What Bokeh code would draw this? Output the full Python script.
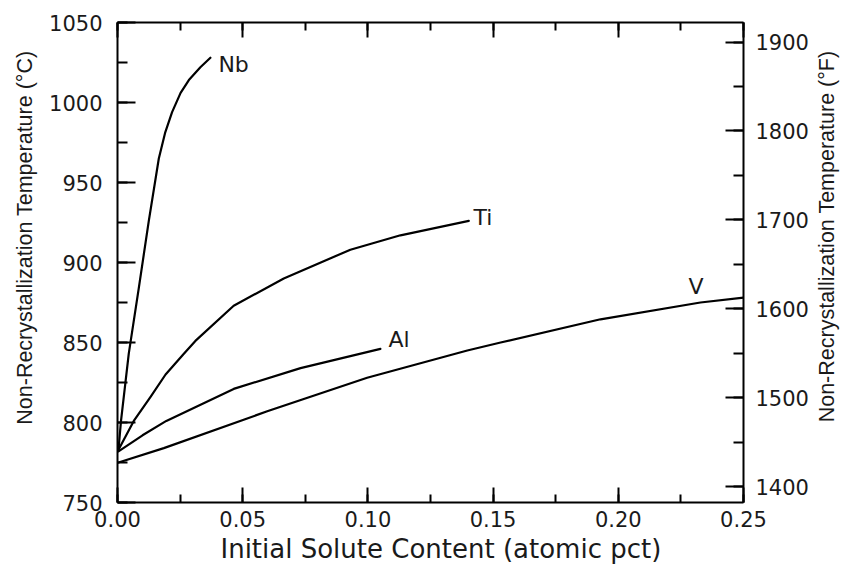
import math
from bokeh.plotting import figure
from bokeh.layouts import row
from bokeh.models import (Range1d, LinearAxis, SingleIntervalTicker, PrintfTickFormatter,
                          CustomJSTickFormatter, Title, ColumnDataSource)
from bokeh.core.properties import value
from bokeh.embed import file_html
from bokeh.resources import INLINE

# ---- data ----
nb_x = [0.0004, 0.0014, 0.0045, 0.0085, 0.0125, 0.0165, 0.0190, 0.0218, 0.0252, 0.0285, 0.0331, 0.0371]
nb_t = [783, 801, 843, 884, 926, 965, 981, 994, 1006, 1014, 1022, 1028]

ti_x = [0.0004, 0.0065, 0.0132, 0.0192, 0.0265, 0.0311, 0.0464, 0.0664, 0.0930, 0.1130, 0.1403]
ti_t = [783, 801, 816, 830, 843, 851, 873, 890, 908, 917, 926]

al_x = [0.0004, 0.0100, 0.0195, 0.0464, 0.0731, 0.1050]
al_t = [782, 792, 801, 821, 834, 846]

v_x = [0.0004, 0.0185, 0.0598, 0.0997, 0.1397, 0.1530, 0.1929, 0.2328, 0.2500]
v_t = [775, 784, 807, 828, 845, 850, 864.5, 875, 878]

label_text = ["Nb", "Ti", "Al", "V"]
label_x = [0.0403, 0.1422, 0.1082, 0.2280]
label_t = [1024, 928, 852, 885]

x_title = "Initial Solute Content (atomic pct)"
yl_title = "Non-Recrystallization Temperature (°C)"
yr_title = "Non-Recrystallization Temperature (°F)"

c_min, c_max = 750, 1050
f_min, f_max = c_min * 9 / 5 + 32, c_max * 9 / 5 + 32

TICK_FONT = "DejaVu Sans"
INK = "#1a1a1a"

p = figure(width=812, height=569, x_range=Range1d(0, 0.25), y_range=Range1d(c_min, c_max),
           output_backend="svg", toolbar_location=None,
           x_axis_location=None, y_axis_location=None,
           min_border_left=117, min_border_right=69, min_border_top=22, min_border_bottom=67)
p.extra_y_ranges = {"F": Range1d(f_min, f_max)}
p.grid.visible = False
p.outline_line_color = None
p.background_fill_color = "white"
p.border_fill_color = "white"


def style(ax, maj, mnr):
    ax.axis_line_width = 2
    ax.axis_line_color = "black"
    ax.major_tick_in = maj
    ax.major_tick_out = 0
    ax.minor_tick_in = mnr
    ax.minor_tick_out = 0
    ax.major_tick_line_width = 2
    ax.minor_tick_line_width = 2
    ax.major_tick_line_color = "black"
    ax.minor_tick_line_color = "black"
    ax.major_label_text_font = TICK_FONT
    ax.major_label_text_font_size = "21px"
    ax.major_label_text_color = INK


bottom = LinearAxis(ticker=SingleIntervalTicker(interval=0.05, num_minor_ticks=2),
                    formatter=PrintfTickFormatter(format="%.2f"))
style(bottom, 15, 8)
bottom.major_label_standoff = 8
p.add_layout(bottom, "below")

top = LinearAxis(ticker=SingleIntervalTicker(interval=0.05, num_minor_ticks=2),
                 formatter=CustomJSTickFormatter(code="return ''"))
style(top, 15, 8)
top.major_label_text_font_size = "1px"
top.major_label_standoff = 0
p.add_layout(top, "above")

left = LinearAxis(ticker=SingleIntervalTicker(interval=50, num_minor_ticks=2))
style(left, 18, 10)
left.major_label_standoff = 15
p.add_layout(left, "left")

right = LinearAxis(y_range_name="F", ticker=SingleIntervalTicker(interval=100, num_minor_ticks=2))
style(right, 18, 10)
right.major_label_standoff = 12
p.add_layout(right, "right")

for xs, ts in [(nb_x, nb_t), (ti_x, ti_t), (al_x, al_t), (v_x, v_t)]:
    p.line(xs, ts, line_color="black", line_width=2.2, line_join="round", line_cap="round")

src = ColumnDataSource(dict(x=label_x, y=label_t, text=label_text))
p.text(x="x", y="y", text="text", source=src, text_font=value(TICK_FONT),
       text_font_size="22px", text_color=INK, text_align="left", text_baseline="middle")

p.add_layout(Title(text=yl_title, align="right", offset=28, standoff=19,
                   text_font="Liberation Sans", text_font_size="21.5px",
                   text_font_style="normal", text_color=INK), "left")
p.add_layout(Title(text=x_title, align="left", offset=103, standoff=4,
                   text_font=TICK_FONT, text_font_size="26px",
                   text_font_style="normal", text_color=INK), "below")

# narrow side strip holding the right-hand title (reads bottom to top, like the reference)
p2 = figure(width=42, height=569, output_backend="svg", toolbar_location=None,
            x_axis_location=None, y_axis_location=None,
            min_border_left=0, min_border_right=0, min_border_top=22, min_border_bottom=67)
p2.grid.visible = False
p2.outline_line_color = None
p2.background_fill_color = "white"
p2.border_fill_color = "white"
p2.add_layout(Title(text=yr_title, align="right", offset=28, standoff=0,
                    text_font="Liberation Sans", text_font_size="21.5px",
                    text_font_style="normal", text_color=INK), "left")

layout = row(p, p2)
open("out.html", "w").write(file_html(layout, INLINE))
